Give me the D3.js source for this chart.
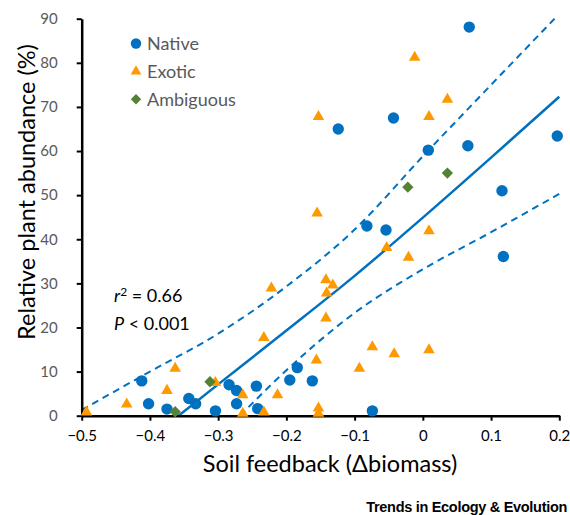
<!DOCTYPE html>
<html>
<head>
<meta charset="utf-8">
<script src="https://cdn.jsdelivr.net/npm/d3@7"></script>
<style>
  html, body { margin: 0; padding: 0; background: #fff; }
  svg { display: block; }
</style>
</head>
<body>
<div id="chart"></div>
<script>
// ---- Data ----
const nativeX = [0.068, 0.197, 0.066, 0.008, -0.043, -0.124, -0.082, -0.054, 0.116, 0.118,
                 -0.412, -0.402, -0.375, -0.343, -0.333, -0.304, -0.284, -0.273, -0.273, -0.244,
                 -0.242, -0.195, -0.184, -0.162, -0.074];
const nativeY = [88.1, 63.4, 61.2, 60.2, 67.5, 65.0, 43.0, 42.1, 51.0, 36.1,
                 7.9, 2.7, 1.5, 3.9, 2.7, 1.1, 7.0, 5.7, 2.7, 6.7,
                 1.6, 8.1, 10.9, 7.9, 1.1];

const exoticX = [-0.493, -0.434, -0.375, -0.363, -0.304, -0.264, -0.264, -0.233, -0.233, -0.222,
                 -0.213, -0.156, -0.153, -0.153, -0.155, -0.153, -0.142, -0.132, -0.141, -0.142,
                 -0.093, -0.074, -0.042, 0.009, -0.053, -0.021, 0.009, -0.012, 0.036, 0.009];
const exoticY = [0.8, 2.6, 5.7, 10.7, 7.5, 4.7, 0.5, 17.7, 0.8, 28.9,
                 4.7, 12.6, 1.7, 0.5, 45.9, 67.8, 30.8, 29.6, 27.8, 22.1,
                 10.7, 15.6, 14.0, 14.9, 38.1, 35.9, 41.9, 81.2, 71.7, 67.8];

const ambX = [-0.363, -0.312, -0.022, 0.036];
const ambY = [0.9, 7.7, 51.8, 55.0];

// regression fit and confidence bands
const fitX = [-0.358, -0.3, -0.2, -0.1, 0, 0.1, 0.2];
const fitY = [0, 7.1, 19.3, 31.7, 44.9, 58.5, 72.3];
const upperX = [-0.5, -0.4, -0.3, -0.2, -0.1, 0, 0.1, 0.193];
const upperY = [1.3, 10.0, 18.6, 29.3, 42.2, 58.8, 75.0, 90];
const lowerX = [-0.268, -0.2, -0.1, 0, 0.1, 0.2];
const lowerY = [0, 10.3, 23.3, 33.2, 41.6, 50.3];

const xTicks = [-0.5, -0.4, -0.3, -0.2, -0.1, 0, 0.1, 0.2];
const xTickLabels = ["\u22120.5", "\u22120.4", "\u22120.3", "\u22120.2", "\u22120.1", "0", "0.1", "0.2"];
const yTicks = [0, 10, 20, 30, 40, 50, 60, 70, 80, 90];
const yTickLabels = ["0", "10", "20", "30", "40", "50", "60", "70", "80", "90"];

const seriesNames = ["Native", "Exotic", "Ambiguous"];

// ---- Layout ----
const W = 570, H = 515;
const BLUE = "#0070C0", ORANGE = "#FF9900", GREEN = "#548235", GREY = "#595959";
const FONT = "Lato, 'Open Sans', sans-serif";

const svg = d3.select("#chart").append("svg")
  .attr("width", W).attr("height", H)
  .attr("viewBox", `0 0 ${W} ${H}`);

const x = d3.scaleLinear().domain([-0.5, 0.2]).range([81.7, 559.3]);
const y = d3.scaleLinear().domain([0, 90]).range([415.7, 18.7]);

// ---- Lines ----
const line = d3.line().x(d => x(d[0])).y(d => y(d[1])).curve(d3.curveMonotoneX);
const zip = (a, b) => a.map((v, i) => [v, b[i]]);

svg.append("path").attr("d", line(zip(upperX, upperY)))
  .attr("fill", "none").attr("stroke", BLUE).attr("stroke-width", 2)
  .attr("stroke-dasharray", "7,5");
svg.append("path").attr("d", line(zip(lowerX, lowerY)))
  .attr("fill", "none").attr("stroke", BLUE).attr("stroke-width", 2)
  .attr("stroke-dasharray", "7,5");
svg.append("path").attr("d", line(zip(fitX, fitY)))
  .attr("fill", "none").attr("stroke", BLUE).attr("stroke-width", 2.5);

// ---- Axes ----
const yAxis = d3.axisLeft(y).tickValues(yTicks).tickFormat((d, i) => yTickLabels[i])
  .tickSize(5).tickSizeOuter(0).tickPadding(19);
const gy = svg.append("g").attr("transform", `translate(${x(-0.5)},0)`).call(yAxis);
gy.select(".domain").attr("stroke", "#000").attr("stroke-width", 2.5);
gy.selectAll(".tick line").attr("stroke", "#000").attr("stroke-width", 2);
gy.selectAll(".tick text").attr("fill", GREY).style("font-family", FONT).style("font-size", "15px");

const xAxis = d3.axisBottom(x).tickValues(xTicks).tickFormat((d, i) => xTickLabels[i])
  .tickSize(5).tickSizeOuter(0).tickPadding(10);
const gx = svg.append("g").attr("transform", `translate(0,${y(0)})`).call(xAxis);
gx.select(".domain").attr("stroke", "#000").attr("stroke-width", 2.5);
gx.selectAll(".tick line").attr("stroke", "#000").attr("stroke-width", 2);
gx.selectAll(".tick text").attr("fill", "#000").style("font-family", FONT).style("font-size", "15px");

// ---- Markers ----
const tri = d3.symbol(d3.symbolTriangle, 58)();
const dia = d3.symbol(d3.symbolSquare, 64)();

svg.append("g").selectAll("circle").data(zip(nativeX, nativeY)).join("circle")
  .attr("cx", d => x(d[0])).attr("cy", d => y(d[1])).attr("r", 5.7).attr("fill", BLUE);
svg.append("g").selectAll("path").data(zip(exoticX, exoticY)).join("path")
  .attr("d", tri).attr("transform", d => `translate(${x(d[0])},${y(d[1])})`).attr("fill", ORANGE);
svg.append("g").selectAll("path").data(zip(ambX, ambY)).join("path")
  .attr("d", dia).attr("transform", d => `translate(${x(d[0])},${y(d[1])}) rotate(45)`).attr("fill", GREEN);

// ---- Legend ----
const leg = svg.append("g").attr("transform", "translate(136,0)");
const legY = [43.5, 71.5, 99.3];
leg.append("circle").attr("cx", 0).attr("cy", legY[0]).attr("r", 5.2).attr("fill", BLUE);
leg.append("path").attr("d", d3.symbol(d3.symbolTriangle, 50)()).attr("transform", `translate(0,${legY[1]})`).attr("fill", ORANGE);
leg.append("path").attr("d", d3.symbol(d3.symbolSquare, 54)()).attr("transform", `translate(0,${legY[2]}) rotate(45)`).attr("fill", GREEN);
leg.selectAll("text").data(seriesNames).join("text")
  .attr("x", 11).attr("y", (d, i) => legY[i] + 6.5)
  .attr("fill", GREY).style("font-family", FONT).style("font-size", "18px")
  .text(d => d);

// ---- Stats annotation ----
const st = svg.append("g").style("font-family", FONT).style("font-size", "18px").attr("fill", "#000");
const t1 = st.append("text").attr("x", 114).attr("y", 302);
t1.append("tspan").style("font-style", "italic").text("r");
t1.append("tspan").attr("dy", -6).style("font-size", "12px").text("2");
t1.append("tspan").attr("dy", 6).text(" = 0.66");
const t2 = st.append("text").attr("x", 114).attr("y", 330);
t2.append("tspan").style("font-style", "italic").text("P");
t2.append("tspan").text(" < 0.001");

// ---- Axis titles ----
svg.append("text").attr("x", 330).attr("y", 472).attr("text-anchor", "middle")
  .style("font-family", FONT).style("font-size", "23.5px").attr("fill", "#000")
  .text("Soil feedback (\u0394biomass)");
svg.append("text").attr("transform", "translate(35,192) rotate(-90)").attr("text-anchor", "middle")
  .style("font-family", FONT).style("font-size", "23.5px").attr("fill", "#000")
  .text("Relative plant abundance (%)");

// ---- Footer ----
svg.append("text").attr("x", 567).attr("y", 512).attr("text-anchor", "end")
  .style("font-family", "'Liberation Sans', Arial, sans-serif").style("font-size", "14.5px")
  .style("font-weight", "bold").style("letter-spacing", "-0.3px").attr("fill", "#000")
  .text("Trends in Ecology & Evolution");
</script>
</body>
</html>
